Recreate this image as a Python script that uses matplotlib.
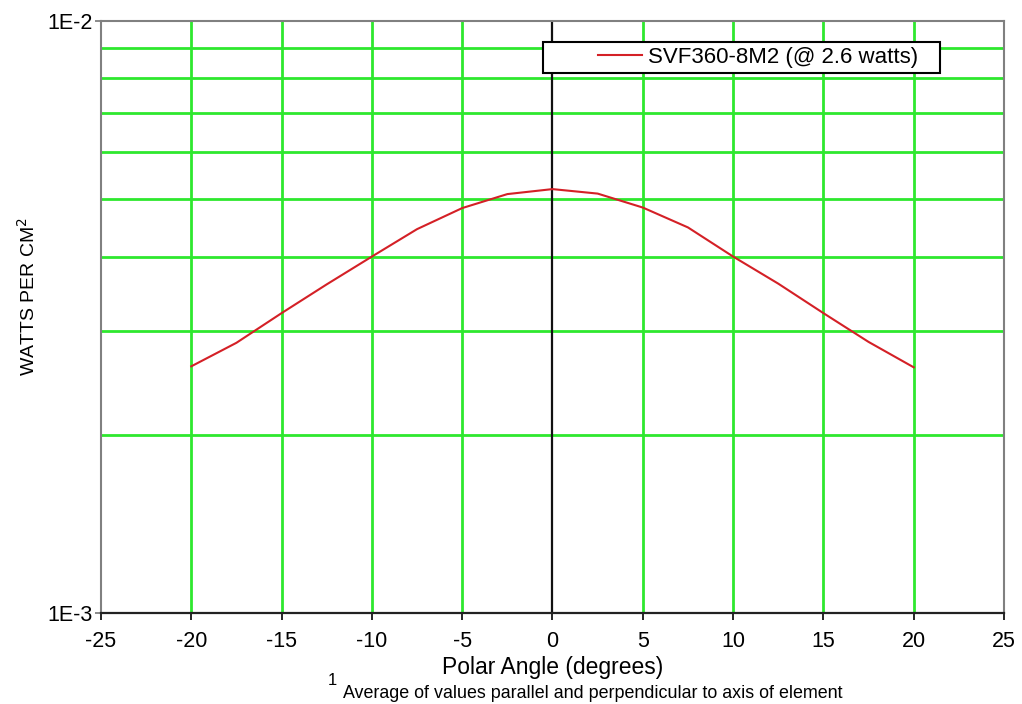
import matplotlib
matplotlib.use("Agg")
import matplotlib.pyplot as plt
import matplotlib.patches as mpatches
import numpy as np

# ---------------------------------------------------------
# data
# ---------------------------------------------------------
angle_deg = [-20, -17.5, -15, -12.5, -10, -7.5, -5, -2.5, 0,
             2.5, 5, 7.5, 10, 12.5, 15, 17.5, 20]
watts_cm2 = [2.61e-3, 2.86e-3, 3.21e-3, 3.59e-3, 4.00e-3, 4.45e-3, 4.83e-3, 5.10e-3, 5.20e-3,
             5.11e-3, 4.84e-3, 4.48e-3, 4.00e-3, 3.60e-3, 3.21e-3, 2.87e-3, 2.60e-3]
series_label = "SVF360-8M2 (@ 2.6 watts)"

x_ticks = list(range(-25, 30, 5))
y_ticks = [1e-3, 1e-2]
y_tick_labels = ["1E-3", "1E-2"]
y_minor = [k * 1e-3 for k in range(2, 10)]

GREEN = "#2ee82e"
RED = "#d42026"

plt.rcParams["font.family"] = ["Liberation Sans", "DejaVu Sans"]

fig = plt.figure(figsize=(10.22, 7.04), dpi=100)
ax = fig.add_axes([0.0988, 0.1293, 0.8836, 0.8409])

ax.set_yscale("log")
ax.set_xlim(-25, 25)
ax.set_ylim(1e-3, 1e-2)

# grid
for yv in y_minor:
    ax.axhline(yv, color=GREEN, lw=2, zorder=1)
for xv in x_ticks[1:-1]:
    if xv != 0:
        ax.axvline(xv, color=GREEN, lw=2, zorder=1)
ax.axvline(0, color="#111111", lw=1.6, zorder=2)

ax.plot(angle_deg, watts_cm2, color=RED, lw=1.5, zorder=3)

# ticks
ax.set_xticks(x_ticks)
ax.set_xticklabels([str(v) for v in x_ticks], fontsize=15.5)
ax.set_yticks(y_ticks)
ax.set_yticklabels(y_tick_labels, fontsize=15.5)
ax.yaxis.set_minor_locator(matplotlib.ticker.NullLocator())
ax.tick_params(axis="x", direction="out", length=5, width=1.2, pad=8)
ax.tick_params(axis="y", direction="out", length=4, width=1.2, pad=2, color="#777777")

for side in ["left", "top", "right"]:
    ax.spines[side].set_color("#808080")
    ax.spines[side].set_linewidth(1.5)
ax.spines["bottom"].set_color("#222222")
ax.spines["bottom"].set_linewidth(1.6)

ax.set_xlabel("Polar Angle (degrees)", fontsize=16.5, labelpad=3)
ax.set_ylabel("WATTS PER CM$^2$", fontsize=14)
ax.yaxis.set_label_coords(-0.069, 0.535)

# legend box
box = mpatches.Rectangle((0.4895, 0.912), 0.4395, 0.0525, transform=ax.transAxes,
                         facecolor="white", edgecolor="black", lw=1.5, zorder=4)
ax.add_patch(box)
leg = ax.legend([plt.Line2D([], [], color=RED, lw=1.5)], [series_label],
                loc="center right", bbox_to_anchor=(0.905, 0.938), frameon=False,
                fontsize=16, handlelength=2.0, handletextpad=0.27, borderpad=0,
                borderaxespad=0)
leg.set_zorder(5)

# footnote
fig.text(0.3205, 0.027, "1", fontsize=12)
fig.text(0.3355, 0.009, "Average of values parallel and perpendicular to axis of element",
         fontsize=12.9)

fig.savefig("out.png", dpi=100)
